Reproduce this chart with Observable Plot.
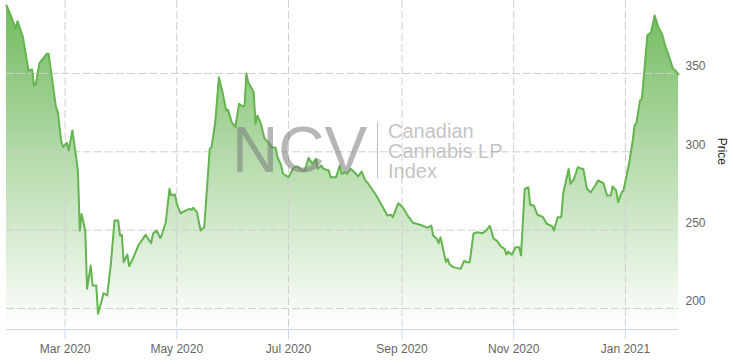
<!DOCTYPE html>
<html>
<head>
<meta charset="utf-8">
<script src="https://cdn.jsdelivr.net/npm/d3@7"></script>
<script src="https://cdn.jsdelivr.net/npm/@observablehq/plot@0.6"></script>
<style>
  html, body { margin: 0; padding: 0; background: #fff; }
  #chart { width: 733px; height: 364px; overflow: hidden; }
</style>
</head>
<body>
<div id="chart"></div>
<script>
const dates = [
"2020-01-29","2020-01-31","2020-02-03","2020-02-04","2020-02-07","2020-02-10","2020-02-12","2020-02-13","2020-02-14","2020-02-16",
"2020-02-20","2020-02-21","2020-02-25","2020-02-26","2020-02-28","2020-02-29","2020-03-02","2020-03-03","2020-03-05","2020-03-06",
"2020-03-08","2020-03-09","2020-03-10","2020-03-12","2020-03-13","2020-03-15","2020-03-16","2020-03-18","2020-03-19","2020-03-21",
"2020-03-22","2020-03-24","2020-03-26","2020-03-28","2020-03-30","2020-03-31","2020-04-01","2020-04-02","2020-04-04","2020-04-05",
"2020-04-07","2020-04-08","2020-04-10","2020-04-14","2020-04-17","2020-04-18","2020-04-20","2020-04-22","2020-04-23","2020-04-25",
"2020-04-27","2020-04-28","2020-04-30","2020-05-01","2020-05-03","2020-05-06","2020-05-08","2020-05-09","2020-05-10","2020-05-12",
"2020-05-14","2020-05-16","2020-05-19","2020-05-20","2020-05-22","2020-05-24","2020-05-26","2020-05-28","2020-05-29","2020-05-31",
"2020-06-02","2020-06-04","2020-06-06","2020-06-07","2020-06-08","2020-06-09","2020-06-11","2020-06-12","2020-06-13","2020-06-14",
"2020-06-16","2020-06-17","2020-06-18","2020-06-20","2020-06-22","2020-06-24","2020-06-25","2020-06-27","2020-06-28","2020-07-01",
"2020-07-04","2020-07-06","2020-07-09","2020-07-10","2020-07-11","2020-07-12","2020-07-14","2020-07-16","2020-07-17","2020-07-19",
"2020-07-20","2020-07-23","2020-07-24","2020-07-27","2020-07-29","2020-07-30","2020-08-01","2020-08-02","2020-08-04","2020-08-06",
"2020-08-08","2020-08-10","2020-08-12","2020-08-13","2020-08-18","2020-08-21","2020-08-24","2020-08-26","2020-08-27","2020-08-30",
"2020-08-31","2020-09-02","2020-09-04","2020-09-07","2020-09-09","2020-09-12","2020-09-15","2020-09-17","2020-09-18","2020-09-20",
"2020-09-21","2020-09-22","2020-09-23","2020-09-25","2020-09-26","2020-09-27","2020-09-29","2020-10-03","2020-10-05","2020-10-06",
"2020-10-08","2020-10-10","2020-10-12","2020-10-15","2020-10-17","2020-10-19","2020-10-21","2020-10-23","2020-10-25","2020-10-27",
"2020-10-28","2020-10-29","2020-10-31","2020-11-02","2020-11-04","2020-11-05","2020-11-07","2020-11-09","2020-11-10","2020-11-12",
"2020-11-14","2020-11-15","2020-11-17","2020-11-19","2020-11-22","2020-11-23","2020-11-25","2020-11-27","2020-11-28","2020-12-01",
"2020-12-02","2020-12-04","2020-12-06","2020-12-08","2020-12-09","2020-12-11","2020-12-13","2020-12-15","2020-12-17","2020-12-19",
"2020-12-20","2020-12-22","2020-12-24","2020-12-25","2020-12-27","2020-12-28","2020-12-30","2020-12-31","2021-01-02","2021-01-03",
"2021-01-05","2021-01-06","2021-01-07","2021-01-09","2021-01-10","2021-01-13","2021-01-15","2021-01-17","2021-01-19","2021-01-21",
"2021-01-23","2021-01-25","2021-01-27","2021-01-28","2021-01-30"
];
const prices = [
393.4,388.1,378.7,383.4,373.2,351.9,352.6,342.3,343.0,356.6,
362.6,362.6,328.5,325.3,306.1,303.0,305.8,300.9,313.6,305.1,
288.1,249.8,260.4,249.8,212.6,227.4,214.7,214.7,196.6,205.1,
209.8,208.3,228.5,256.2,256.2,246.6,247.0,229.6,234.5,227.0,
231.7,234.5,240.2,247.0,241.7,247.7,249.8,244.9,247.7,255.1,
276.4,272.1,272.8,266.8,260.8,262.6,263.6,263.0,264.3,261.5,
249.8,251.9,301.9,303.0,318.9,347.6,338.1,326.4,326.8,318.9,
315.7,330.7,328.9,329.6,350.0,344.4,340.2,338.1,317.9,323.2,
317.9,312.5,308.3,306.1,303.0,302.6,296.6,291.3,286.0,283.8,
290.2,290.6,288.1,288.1,292.4,296.2,292.4,295.6,289.2,291.3,
289.2,288.1,283.8,283.8,291.3,286.0,287.0,286.0,289.2,287.0,
284.3,287.4,281.7,280.6,272.1,265.7,259.4,259.8,258.3,267.2,
266.2,263.6,259.4,254.7,254.1,253.0,251.5,253.0,246.6,244.5,
241.7,245.5,240.2,229.6,231.7,228.1,226.4,225.3,230.6,229.6,
229.6,247.7,248.7,248.1,249.8,252.7,244.7,243.0,239.6,238.1,
234.5,236.4,234.3,239.1,239.1,233.8,276.4,277.4,266.2,265.7,
259.8,259.4,258.3,254.1,252.5,249.8,258.3,258.3,273.2,289.2,
279.6,282.8,290.2,289.2,289.2,276.4,274.2,277.4,281.7,280.6,
280.0,272.1,272.1,277.9,275.3,267.9,274.2,275.3,287.0,292.4,
307.2,316.8,318.3,332.8,333.9,374.3,376.4,387.0,379.6,375.3,
366.8,360.4,353.0,352.4,349.4
];
const tickDates = ["2020-03-01","2020-05-01","2020-07-01","2020-09-01","2020-11-01","2021-01-01"];
const yTicks = [200, 250, 300, 350];
const xDomain = ["2020-01-29", "2021-01-30"];
const yDomain = [186.6, 396.6];
const axisTitle = "Price";
const logoMark = "NCV";
const logoLines = ["Canadian", "Cannabis LP", "Index"];

const data = dates.map((d, i) => ({date: new Date(d), price: prices[i]}));
const ticks = tickDates.map(d => new Date(d));

const lineColor = "#64b44f";
const gridColor = "#cfcfcf";
const axisColor = "#ccd6eb";
const labelColor = "#666666";

const plot = Plot.plot({
  width: 733,
  height: 364,
  marginLeft: 6,
  marginRight: 55,
  marginTop: 0,
  marginBottom: 35,
  style: {fontFamily: "'Liberation Sans', Arial, sans-serif", fontSize: "12px", background: "#fff", overflow: "visible"},
  x: {type: "utc", domain: xDomain.map(d => new Date(d))},
  y: {domain: yDomain},
  marks: [
    Plot.areaY(data, {x: "date", y1: yDomain[0], y2: "price", fill: "url(#ncvGrad)"}),
    Plot.ruleY(yTicks, {stroke: gridColor, strokeDasharray: "8,3", strokeWidth: 1}),
    Plot.ruleX(ticks, {stroke: gridColor, strokeDasharray: "8,3", strokeWidth: 1}),
    Plot.ruleY([yDomain[0]], {stroke: axisColor, strokeWidth: 1}),
    Plot.axisX(ticks, {tickSize: 10, tickPadding: 5, stroke: axisColor, fill: labelColor, tickFormat: d3.utcFormat("%b %Y"), fontSize: 12, label: null}),
    Plot.axisY(yTicks, {anchor: "right", tickSize: 0, tickPadding: 7, dy: -7, fill: labelColor, textAnchor: "start", fontSize: 12, label: null}),
    Plot.text([axisTitle], {frameAnchor: "right", text: d => d, dx: 43, rotate: 90, fill: "#222", fontSize: 12}),
    Plot.line(data, {x: "date", y: "price", stroke: lineColor, strokeWidth: 2, strokeLinejoin: "round"})
  ]
});

const svg = d3.select(plot);
const defs = svg.insert("defs", ":first-child");
const grad = defs.append("linearGradient")
  .attr("id", "ncvGrad")
  .attr("gradientUnits", "userSpaceOnUse")
  .attr("x1", 0).attr("x2", 0).attr("y1", 0).attr("y2", 329);
grad.append("stop").attr("offset", "0%").attr("stop-color", lineColor).attr("stop-opacity", 0.92);
grad.append("stop").attr("offset", "100%").attr("stop-color", lineColor).attr("stop-opacity", 0);

// watermark
const wm = svg.append("g").attr("class", "watermark").attr("pointer-events", "none")
  .attr("text-anchor", "start")
  .style("font-family", "'Liberation Sans', Arial, sans-serif");
wm.append("text").attr("x", 232).attr("y", 172).attr("font-size", 64)
  .attr("text-anchor", "start")
  .attr("fill", "#7a7a7a").attr("fill-opacity", 0.55).text(logoMark);
wm.append("line").attr("x1", 377.5).attr("x2", 377.5).attr("y1", 122).attr("y2", 178)
  .attr("stroke", "#bdbdbd").attr("stroke-width", 1);
logoLines.forEach((t, i) => {
  wm.append("text").attr("x", 388).attr("y", 137.5 + i * 20.2).attr("font-size", 20)
    .attr("text-anchor", "start")
    .attr("fill", "#9a9a9a").attr("fill-opacity", 0.6).text(t);
});

document.getElementById("chart").appendChild(plot);
</script>
</body>
</html>
